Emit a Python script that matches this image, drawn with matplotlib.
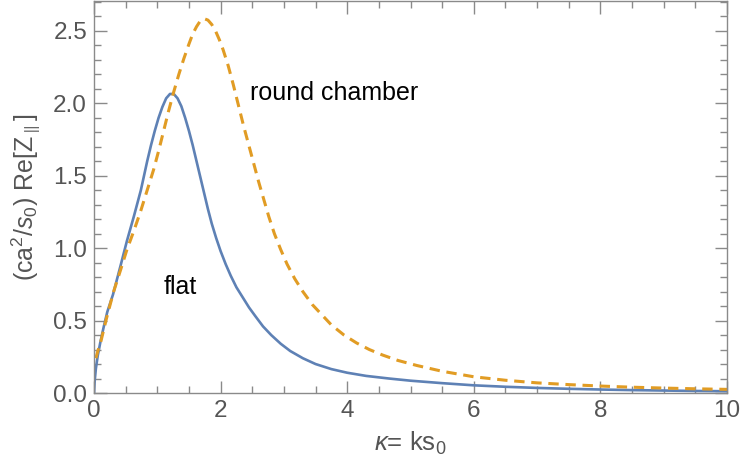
import matplotlib
matplotlib.use('Agg')
import matplotlib.pyplot as plt
from matplotlib.ticker import MultipleLocator

# values
flat_x = [0, 0.01, 0.03, 0.06, 0.1, 0.15, 0.21, 0.3, 0.42, 0.52, 0.63, 0.74,
          0.84, 0.90, 0.96, 1.02, 1.08, 1.14, 1.20, 1.26, 1.32, 1.38, 1.44,
          1.50, 1.56, 1.62, 1.68, 1.74, 1.80, 1.86, 1.93, 2.00, 2.08, 2.16,
          2.25, 2.35, 2.45, 2.55, 2.67, 2.80, 2.95, 3.10, 3.30, 3.50, 3.75,
          4.0, 4.3, 4.66, 5.0, 5.5, 6.0, 6.5, 7.0, 7.5, 8.0, 8.5, 9.0, 9.5,
          10.0]
flat_y = [0, 0.08, 0.17, 0.26, 0.35, 0.45, 0.56, 0.68, 0.88, 1.05, 1.22, 1.40,
          1.60, 1.71, 1.81, 1.90, 1.975, 2.035, 2.065, 2.065, 2.035, 1.98,
          1.90, 1.81, 1.71, 1.60, 1.49, 1.38, 1.27, 1.17, 1.07, 0.98, 0.89,
          0.81, 0.73, 0.66, 0.59, 0.53, 0.46, 0.40, 0.34, 0.29, 0.24, 0.20,
          0.165, 0.14, 0.118, 0.10, 0.085, 0.068, 0.053, 0.043, 0.035, 0.029,
          0.024, 0.020, 0.017, 0.014, 0.012]

round_x = [0.03, 0.06, 0.105, 0.2, 0.31, 0.42, 0.52, 0.63, 0.74, 0.84, 0.94,
           1.02, 1.10, 1.18, 1.26, 1.34, 1.42, 1.50, 1.56, 1.62, 1.68, 1.74,
           1.80, 1.86, 1.92, 1.98, 2.04, 2.12, 2.20, 2.28, 2.36, 2.44, 2.52,
           2.60, 2.68, 2.76, 2.85, 2.95, 3.05, 3.17, 3.30, 3.45, 3.60, 3.75,
           3.95, 4.15, 4.35, 4.56, 4.80, 5.10, 5.5, 6.0, 6.5, 7.0, 7.5, 8.0,
           8.5, 9.0, 9.5, 10.0]
round_y = [0.24, 0.29, 0.35, 0.52, 0.70, 0.85, 0.99, 1.12, 1.26, 1.40, 1.54,
           1.67, 1.81, 1.95, 2.08, 2.20, 2.31, 2.41, 2.48, 2.53, 2.57, 2.585,
           2.575, 2.545, 2.50, 2.44, 2.37, 2.26, 2.13, 1.99, 1.85, 1.72, 1.59,
           1.46, 1.34, 1.22, 1.10, 0.99, 0.89, 0.79, 0.70, 0.61, 0.54, 0.47,
           0.40, 0.345, 0.30, 0.262, 0.225, 0.19, 0.15, 0.112, 0.088, 0.070,
           0.058, 0.048, 0.040, 0.034, 0.029, 0.025]

x_ticks = [0, 2, 4, 6, 8, 10]
y_ticks = [0.0, 0.5, 1.0, 1.5, 2.0, 2.5]

plt.rcParams['font.family'] = ['Liberation Sans', 'DejaVu Sans']
plt.rcParams['mathtext.fontset'] = 'custom'
plt.rcParams['mathtext.rm'] = 'Liberation Sans'
plt.rcParams['mathtext.it'] = 'Liberation Sans:italic'
plt.rcParams['mathtext.sf'] = 'Liberation Sans'

fig = plt.figure(figsize=(7.41, 4.72), dpi=100)
ax = fig.add_axes([94 / 741, 79 / 472, 633 / 741, 392 / 472])

ax.plot(flat_x, flat_y, color='#5E81B5', lw=1.9, solid_capstyle='butt')
ax.plot(round_x, round_y, color='#E19C24', lw=2.2, dashes=(3.4, 2.2),
        dash_capstyle='butt')

ax.text(2.46, 2.07, 'round chamber', fontsize=18, color='black',
        ha='left', va='center')
ax.text(1.37, 0.73, 'flat', fontsize=18, color='black',
        ha='center', va='center')

ax.set_xlim(0, 10)
ax.set_ylim(0, 2.707)
ax.set_xticks(x_ticks)
ax.set_yticks(y_ticks)
ax.set_yticklabels(['%.1f' % v for v in y_ticks])
ax.xaxis.set_minor_locator(MultipleLocator(0.5))
ax.yaxis.set_minor_locator(MultipleLocator(0.1))

grey = '#8a8a8a'
for s in ax.spines.values():
    s.set_color(grey)
    s.set_linewidth(1.0)
ax.tick_params(which='both', direction='in', top=True, right=True,
               color=grey, width=1.0)
ax.tick_params(which='major', length=9, labelsize=17.5, labelcolor='#555555',
               pad=5)
ax.tick_params(which='minor', length=5)

ax.set_xlabel(r'$\kappa$= ks$_0$', fontsize=18.5, color='#555555', labelpad=6)
ax.set_ylabel(r'(ca$^2$/$s_0$) Re[Z$_\parallel$]', fontsize=18,
              color='#555555', labelpad=7)

fig.savefig('out.png', dpi=100)
